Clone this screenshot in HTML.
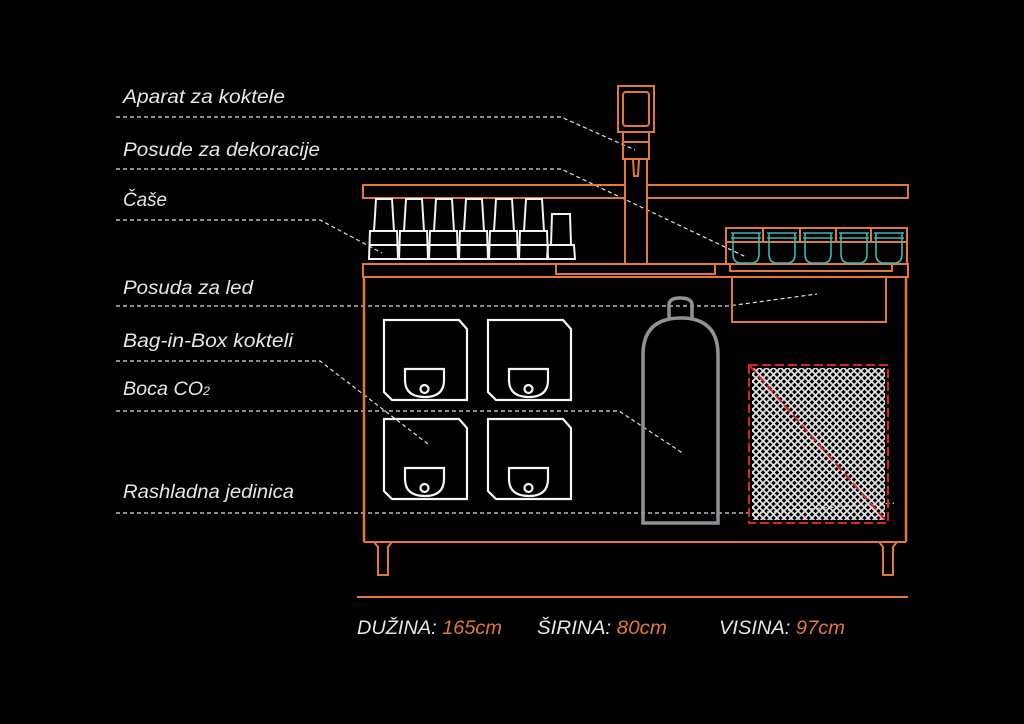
<!DOCTYPE html>
<html><head><meta charset="utf-8"><style>
html,body{margin:0;padding:0;background:#000;}
svg{display:block;}
text{font-family:"Liberation Sans",sans-serif;font-style:italic;font-size:19px;fill:#e6e6e6;}
</style></head><body>
<svg width="1024" height="724" viewBox="0 0 1024 724" xmlns="http://www.w3.org/2000/svg">
<defs>
<pattern id="hatch" width="7" height="7" patternUnits="userSpaceOnUse">
<path d="M0 0L7 7M7 0L0 7" stroke="#e0e0e0" stroke-width="1.8"/>
</pattern>
</defs>
<rect width="1024" height="724" fill="#000"/>

<!-- labels -->
<text x="123" y="103" textLength="162" lengthAdjust="spacingAndGlyphs">Aparat za koktele</text>
<text x="123" y="156" textLength="197" lengthAdjust="spacingAndGlyphs">Posude za dekoracije</text>
<text x="123" y="206" textLength="44" lengthAdjust="spacingAndGlyphs">Čaše</text>
<text x="123" y="294" textLength="130" lengthAdjust="spacingAndGlyphs">Posuda za led</text>
<text x="123" y="347" textLength="170" lengthAdjust="spacingAndGlyphs">Bag-in-Box kokteli</text>
<text x="123" y="395" textLength="87" lengthAdjust="spacingAndGlyphs">Boca CO<tspan font-size="12">2</tspan></text>
<text x="123" y="498" textLength="171" lengthAdjust="spacingAndGlyphs">Rashladna jedinica</text>

<g stroke="#e0e0e0" stroke-width="1.2" stroke-dasharray="4,3" fill="none">
<path d="M116 117H561L635 150"/>
<path d="M116 169H561L746 257"/>
<path d="M116 220H320L382 253"/>
<path d="M116 306H728L817 294"/>
<path d="M116 361H320L428 444"/>
<path d="M116 411H619L684 454"/>
<path d="M116 513H750L894 503"/>
</g>

<!-- orange structure -->
<g stroke="#e27a35" stroke-width="2" fill="none">
<rect x="618" y="86" width="36" height="46"/>
<rect x="623" y="92" width="26" height="34" rx="3"/>
<rect x="623" y="132" width="26" height="27"/>
<line x1="623" y1="142" x2="649" y2="142"/>
<path d="M633 159L634 176H638L639 159"/>
<line x1="625" y1="159" x2="625" y2="264"/>
<line x1="647" y1="159" x2="647" y2="264"/>
<path d="M625 185H363V198H625M647 185H908V198H647"/>
<rect x="363" y="264" width="545" height="13"/>
<path d="M556 264V274H715V264"/>
<rect x="726" y="228" width="181" height="36"/>
<path d="M763 228V242M800 228V242M836 228V242M871 228V242"/>
<line x1="726" y1="242" x2="907" y2="242"/>
<path d="M730 264V271H892V264"/>
<path d="M732 277V322H886V277"/>
<path d="M364 277V542M906 277V542" stroke-width="2.5"/>
<line x1="364" y1="542" x2="906" y2="542"/>
<path d="M374 542L378 547V575H388V547L392 542"/>
<path d="M879 542L883 547V575H893V547L897 542"/>
<line x1="357" y1="597" x2="908" y2="597"/>
</g>

<!-- glasses -->
<g stroke="#f2f2f2" stroke-width="2" fill="none">
<g id="gl">
<path d="M374 231L376 199H392L394 231"/>
<path d="M369 259L370 231H397L398 259Z"/>
<line x1="369" y1="245" x2="398" y2="245"/>
</g>
<use href="#gl" x="30"/><use href="#gl" x="60"/><use href="#gl" x="90"/><use href="#gl" x="120"/><use href="#gl" x="150"/>
<path d="M551 245L552 214H570L571 245"/>
<path d="M547 259L548 245H574L575 259Z"/>
</g>

<!-- teal cups -->
<g stroke="#3fb5b5" stroke-width="1.6" fill="none">
<g id="cup"><path d="M731 233H761M731 238H761M733 233V254Q733 263 741 263H751Q759 263 759 254V233"/></g>
<use href="#cup" x="36"/><use href="#cup" x="72"/><use href="#cup" x="108"/><use href="#cup" x="143"/>
</g>

<!-- bag in box -->
<g stroke="#f5f5f5" stroke-width="2.2" fill="none">
<g id="bib">
<path d="M384 320H459L467 329V400H392L384 392Z"/>
<path d="M405 369H444V380Q444 397 425 397Q405 397 405 380Z"/>
<circle cx="424.5" cy="389" r="4"/>
</g>
<use href="#bib" x="104"/><use href="#bib" y="99"/><use href="#bib" x="104" y="99"/>
</g>

<!-- bottle -->
<g stroke="#8d9396" stroke-width="3.5" fill="none">
<path d="M643 523V355Q643 318 681 318Q718 318 718 355V523Z"/>
<path d="M669 318V305Q669 298 680 298Q692 298 692 305V318"/>
</g>

<!-- condenser -->
<rect x="752" y="368" width="133" height="152" fill="url(#hatch)"/>
<rect x="749" y="365" width="139" height="158" fill="none" stroke="#d8232a" stroke-width="2" stroke-dasharray="9,4"/>
<line x1="750" y1="366" x2="887" y2="522" stroke="#d8232a" stroke-width="2" stroke-dasharray="9,4"/>

<!-- dimensions -->
<text x="357" y="634" textLength="145" lengthAdjust="spacingAndGlyphs">DUŽINA: <tspan fill="#e27a35">165cm</tspan></text>
<text x="537" y="634" textLength="130" lengthAdjust="spacingAndGlyphs">ŠIRINA: <tspan fill="#e27a35">80cm</tspan></text>
<text x="719" y="634" textLength="126" lengthAdjust="spacingAndGlyphs">VISINA: <tspan fill="#e27a35">97cm</tspan></text>
</svg>
</body></html>
